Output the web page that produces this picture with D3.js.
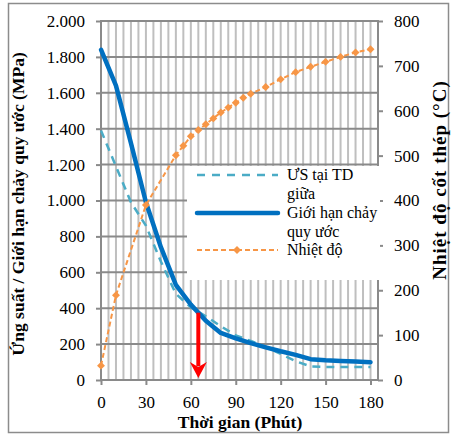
<!DOCTYPE html>
<html>
<head>
<meta charset="utf-8">
<script src="https://cdn.jsdelivr.net/npm/d3@7/dist/d3.min.js"></script>
<style>
  body { margin: 0; background: #fff; }
  svg text { font-family: "Liberation Serif", "Times New Roman", serif !important; }
</style>
</head>
<body>
<div id="chart"></div>
<script>
// data
var timeTicks = [0, 30, 60, 90, 120, 150, 180]

var limitTime = [0, 10, 20, 30, 40, 50, 60, 70, 80, 90, 100, 110, 120, 130, 140, 150, 160, 170, 180]
var limitVal = [1840, 1640, 1320, 990, 740, 530, 420, 330, 262, 232, 205, 182, 160, 140, 116, 110, 106, 103, 99]

var stressTime = [0, 10, 20, 30, 40, 50, 60, 70, 80, 90, 100, 110, 120, 130, 140, 150, 160, 170, 180]
var stressVal = [1390, 1190, 990, 860, 660, 480, 405, 355, 300, 248, 218, 185, 145, 105, 76, 73, 72, 72, 72]

var tempTime = [0, 10, 30, 50, 55, 60, 65, 70, 75, 80, 85, 90, 95, 100, 110, 120, 130, 140, 150, 160, 170, 180]
var tempVal = [32, 189, 390, 501, 522, 543, 557, 570, 583, 596, 607, 618, 629, 638, 653, 670, 686, 698, 709, 720, 730, 737]

var arrowTime = 65
var legendNames = ["ƯS tại TD|giữa", "Giới hạn chảy|quy ước", "Nhiệt độ"]

var W = 452, H = 435
var plotL = 101, plotR = 378, plotT = 21, plotB = 380

var svg = d3.select("#chart").append("svg")
    .attr("width", W)
    .attr("height", H)

// outer border
svg.append("rect")
    .attr("x", 8.5).attr("y", 3.5)
    .attr("width", 440).attr("height", 429)
    .attr("fill", "none")
    .attr("stroke", "#8c8c8c")
    .attr("stroke-width", 1.5)

var x = d3.scaleLinear().domain([0, 185]).range([plotL, plotR])
var yL = d3.scaleLinear().domain([0, 2000]).range([plotB, plotT])
var yR = d3.scaleLinear().domain([0, 800]).range([plotB, plotT])

// vertical gridlines every 5 minutes
svg.append("g").selectAll("line")
    .data(d3.range(5, 185, 5))
  .enter().append("line")
    .attr("x1", function(d) { return x(d) }).attr("x2", function(d) { return x(d) })
    .attr("y1", plotT).attr("y2", plotB)
    .attr("stroke", "#bfbfbf")
    .attr("stroke-width", 2)

// horizontal gridlines
svg.append("g").selectAll("line")
    .data(d3.range(200, 2001, 200))
  .enter().append("line")
    .attr("x1", plotL).attr("x2", plotR)
    .attr("y1", function(d) { return yL(d) }).attr("y2", function(d) { return yL(d) })
    .attr("stroke", "#8a8a8a")
    .attr("stroke-width", 2)

var vn = d3.formatLocale({decimal: ",", thousands: ".", grouping: [3], currency: ["", ""]})

var styleAxis = function(g) {
    g.attr("font-size", 17)
    g.select(".domain").remove()
    g.selectAll(".tick line").attr("stroke", "#8a8a8a").attr("stroke-width", 2)
    g.selectAll(".tick text").attr("fill", "#000")
}

svg.append("g")
    .attr("transform", "translate(" + plotL + ",0)")
    .call(d3.axisLeft(yL).tickValues(d3.range(0, 2001, 200)).tickFormat(vn.format(",")).tickSize(5).tickPadding(11))
    .call(styleAxis)

svg.append("g")
    .attr("transform", "translate(" + plotR + ",0)")
    .call(d3.axisRight(yR).tickValues(d3.range(0, 801, 100)).tickSize(5).tickPadding(11))
    .call(styleAxis)

svg.append("g")
    .attr("transform", "translate(0," + plotB + ")")
    .call(d3.axisBottom(x).tickValues(timeTicks).tickSize(5).tickPadding(11))
    .call(styleAxis)

// axis lines
svg.append("line").attr("x1", plotL).attr("x2", plotL).attr("y1", plotT - 1).attr("y2", plotB + 1)
    .attr("stroke", "#8a8a8a").attr("stroke-width", 2)
svg.append("line").attr("x1", plotR).attr("x2", plotR).attr("y1", plotT - 1).attr("y2", plotB + 1)
    .attr("stroke", "#8a8a8a").attr("stroke-width", 2)
svg.append("line").attr("x1", plotL).attr("x2", plotR).attr("y1", plotB).attr("y2", plotB)
    .attr("stroke", "#8a8a8a").attr("stroke-width", 2)

// legend background hides the grid behind it
var legend = svg.append("g").attr("transform", "translate(187,166)")
legend.append("rect")
    .attr("width", 193).attr("height", 114)
    .attr("fill", "#fff")

// series
var lineL = function(ts, vs) {
    return d3.line().x(function(d, i) { return x(ts[i]) }).y(function(d) { return yL(d) })(vs)
}

svg.append("path")
    .attr("d", lineL(stressTime, stressVal))
    .attr("fill", "none")
    .attr("stroke", "#4bacc6")
    .attr("stroke-width", 2.5)
    .attr("stroke-dasharray", "8,6")

svg.append("path")
    .attr("d", lineL(limitTime, limitVal))
    .attr("fill", "none")
    .attr("stroke", "#0070c0")
    .attr("stroke-width", 4.5)
    .attr("stroke-linejoin", "round")
    .attr("stroke-linecap", "round")

var tempLine = d3.line()
    .x(function(d, i) { return x(tempTime[i]) })
    .y(function(d) { return yR(d) })

svg.append("path")
    .attr("d", tempLine(tempVal))
    .attr("fill", "none")
    .attr("stroke", "#f79646")
    .attr("stroke-width", 2)
    .attr("stroke-dasharray", "5,3")

var diamond = d3.symbol().type(d3.symbolDiamond2).size(40)
svg.append("g").selectAll("path")
    .data(tempVal)
  .enter().append("path")
    .attr("d", diamond)
    .attr("transform", function(d, i) { return "translate(" + x(tempTime[i]) + "," + yR(d) + ")" })
    .attr("fill", "#f79646")

// red arrow at the crossing
var limitAt = d3.scaleLinear().domain(limitTime).range(limitVal)
var ax = x(arrowTime), ay = yL(limitAt(arrowTime))
svg.append("line")
    .attr("x1", ax).attr("x2", ax)
    .attr("y1", ay).attr("y2", plotB - 14)
    .attr("stroke", "#ff0000")
    .attr("stroke-width", 4)
svg.append("path")
    .attr("d", "M" + (ax - 8.5) + "," + (plotB - 18) + "L" + ax + "," + (plotB - 2) + "L" + (ax + 8.5) + "," + (plotB - 18) + "L" + ax + "," + (plotB - 13) + "Z")
    .attr("fill", "#ff0000")

// legend entries
var rows = [
    {y: 9, stroke: "#4bacc6", width: 2.5, dash: "8,7"},
    {y: 47, stroke: "#0070c0", width: 4.5, dash: null},
    {y: 84, stroke: "#f79646", width: 2, dash: "5,3"}
]
rows.forEach(function(r, i) {
    legend.append("line")
        .attr("x1", 10).attr("x2", 91)
        .attr("y1", r.y).attr("y2", r.y)
        .attr("stroke", r.stroke)
        .attr("stroke-width", r.width)
        .attr("stroke-dasharray", r.dash)
        .attr("stroke-linecap", r.dash ? "butt" : "round")
    var parts = legendNames[i].split("|")
    var t = legend.append("text")
        .attr("x", 100).attr("y", r.y + 5)
        .attr("font-size", 16)
    parts.forEach(function(p, k) {
        t.append("tspan").attr("x", 100).attr("dy", k == 0 ? 0 : 19).text(p)
    })
})
legend.append("path")
    .attr("d", diamond)
    .attr("transform", "translate(50,84)")
    .attr("fill", "#f79646")

// axis titles
svg.append("text")
    .attr("x", 240).attr("y", 428)
    .attr("text-anchor", "middle")
    .attr("font-size", 17.5)
    .attr("font-weight", "bold")
    .text("Thời gian (Phút)")

svg.append("text")
    .attr("transform", "translate(24,204) rotate(-90)")
    .attr("text-anchor", "middle")
    .attr("font-size", 17.5)
    .attr("font-weight", "bold")
    .text("Ứng suất / Giới hạn chảy quy ước (MPa)")

svg.append("text")
    .attr("transform", "translate(446,180) rotate(-90)")
    .attr("text-anchor", "middle")
    .attr("font-size", 19)
    .attr("letter-spacing", 1)
    .attr("font-weight", "bold")
    .text("Nhiệt độ cốt thép (°C)")
</script>
</body>
</html>
